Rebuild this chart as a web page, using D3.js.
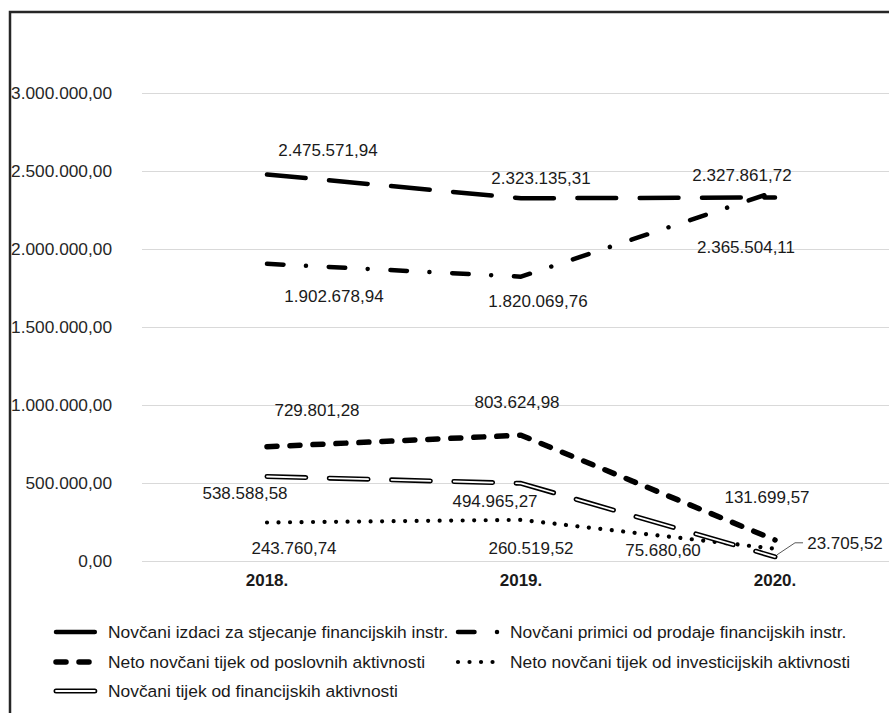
<!DOCTYPE html>
<html>
<head>
<meta charset="utf-8">
<script src="https://cdn.jsdelivr.net/npm/d3@7"></script>
<style>
  body { margin: 0; background: #fff; }
  svg text { font-family: "Liberation Sans", Arial, sans-serif; }
</style>
</head>
<body>
<div id="chart"></div>
<script>
// data
var years = ['2018.', '2019.', '2020.'];
var izdaci = [2475571.94, 2323135.31, 2327861.72];
var primici = [1902678.94, 1820069.76, 2365504.11];
var poslovne = [729801.28, 803624.98, 131699.57];
var investicijske = [243760.74, 260519.52, 75680.60];
var financijske = [538588.58, 494965.27, 23705.52];
var seriesNames = [
  'Novčani izdaci za stjecanje financijskih instr.',
  'Novčani primici od prodaje financijskih instr.',
  'Neto novčani tijek od poslovnih aktivnosti',
  'Neto novčani tijek od investicijskih aktivnosti',
  'Novčani tijek od financijskih aktivnosti'
];
var yTicks = [0, 500000, 1000000, 1500000, 2000000, 2500000, 3000000];

// line looks, in series order
var styles = [
  { width: 4.5, dash: '38.8,23.5' },
  { width: 4.5, dash: '16.5,22.5,0.01,22.8' },
  { width: 5.5, dash: '10,13' },
  { width: 4.2, dash: '0.01,11.5' },
  { width: 5, dash: '38.8,23.5', hollow: true }
];

// where each value label sits, relative to its point
var labelShift = [
  [[61, -24], [20, -20], [-33, -22]],
  [[67, 32], [17, 24], [-29, 55]],
  [[50, -37], [-4, -33], [-8, -43]],
  [[27, 26], [10, 28], [-112, 1]],
  [[-22, 17], [-26, 18], [70, -14]]
];

var W = 889, H = 713;
var svg = d3.select('#chart').append('svg')
  .attr('width', W).attr('height', H);

svg.append('rect').attr('width', W).attr('height', H).attr('fill', '#fff');

var x = d3.scaleBand().domain(years).range([140, 902]);
var y = d3.scaleLinear().domain([0, 3000000]).range([560.5, 92.7]);
var cx = function(i) { return x(years[i]) + x.bandwidth() / 2; };

var loc = d3.formatLocale({ decimal: ',', thousands: '.', grouping: [3], currency: ['', ''] });
var fmt = loc.format(',.2f');

// grid + y labels
svg.append('g').selectAll('line').data(yTicks).enter().append('line')
  .attr('x1', 142).attr('x2', 902)
  .attr('y1', function(d) { return Math.round(y(d)) + 0.5; })
  .attr('y2', function(d) { return Math.round(y(d)) + 0.5; })
  .attr('stroke', '#d9d9d9').attr('stroke-width', 1);

svg.append('g').selectAll('text').data(yTicks).enter().append('text')
  .attr('x', 112).attr('y', function(d) { return y(d); })
  .attr('dy', '0.35em').attr('text-anchor', 'end')
  .attr('font-size', 17.3).attr('fill', '#262626')
  .text(fmt);

// x labels
svg.append('g').selectAll('text').data(years).enter().append('text')
  .attr('x', function(d, i) { return cx(i); }).attr('y', 580)
  .attr('dy', '0.35em').attr('text-anchor', 'middle')
  .attr('font-size', 17).attr('font-weight', 'bold').attr('fill', '#1a1a1a')
  .text(function(d) { return d; });

// lines
var allSeries = [izdaci, primici, poslovne, investicijske, financijske];
var line = d3.line()
  .x(function(d, i) { return cx(i); })
  .y(function(d) { return y(d); });

function drawStroke(sel, st) {
  sel.append('path')
    .attr('fill', 'none').attr('stroke', '#000')
    .attr('stroke-width', st.width)
    .attr('stroke-dasharray', st.dash)
    .attr('stroke-linecap', 'round').attr('stroke-linejoin', 'round');
  if (st.hollow) {
    sel.append('path')
      .attr('fill', 'none').attr('stroke', '#fff')
      .attr('stroke-width', 1.8)
      .attr('stroke-dasharray', st.dash)
      .attr('stroke-linecap', 'round').attr('stroke-linejoin', 'round');
  }
}

allSeries.forEach(function(vals, s) {
  var g = svg.append('g');
  drawStroke(g, styles[s]);
  g.selectAll('path').attr('d', line(vals));
});

// value labels
allSeries.forEach(function(vals, s) {
  vals.forEach(function(v, i) {
    var px = cx(i), py = y(v),
        lx = px + labelShift[s][i][0], ly = py + labelShift[s][i][1];
    svg.append('text')
      .attr('x', lx).attr('y', ly).attr('dy', '0.35em')
      .attr('text-anchor', 'middle').attr('font-size', 17).attr('fill', '#1a1a1a')
      .text(fmt(v));
    if (s === 4 && i === 2) { // leader line for the last small value
      svg.append('path')
        .attr('d', 'M' + (px + 2) + ',' + (py - 2) + 'L' + (lx - 50) + ',' + ly + 'L' + (lx - 42) + ',' + ly)
        .attr('fill', 'none').attr('stroke', '#595959').attr('stroke-width', 1);
    }
  });
});

// legend
var legendPos = [[56, 632], [458, 632], [56, 662], [458, 662], [56, 691]];
seriesNames.forEach(function(name, s) {
  var lx = legendPos[s][0], ly = legendPos[s][1];
  var g = svg.append('g');
  drawStroke(g, styles[s]);
  g.selectAll('path').attr('d', 'M' + lx + ',' + ly + 'L' + (lx + 44) + ',' + ly);
  svg.append('text')
    .attr('x', lx + 52).attr('y', ly).attr('dy', '0.35em')
    .attr('font-size', 17.4).attr('fill', '#1a1a1a')
    .text(name);
});

// outer frame (cropped on right/bottom)
svg.append('path')
  .attr('d', 'M10,' + H + 'L10,12L' + W + ',12')
  .attr('fill', 'none').attr('stroke', '#262626').attr('stroke-width', 2.5);
</script>
</body>
</html>
